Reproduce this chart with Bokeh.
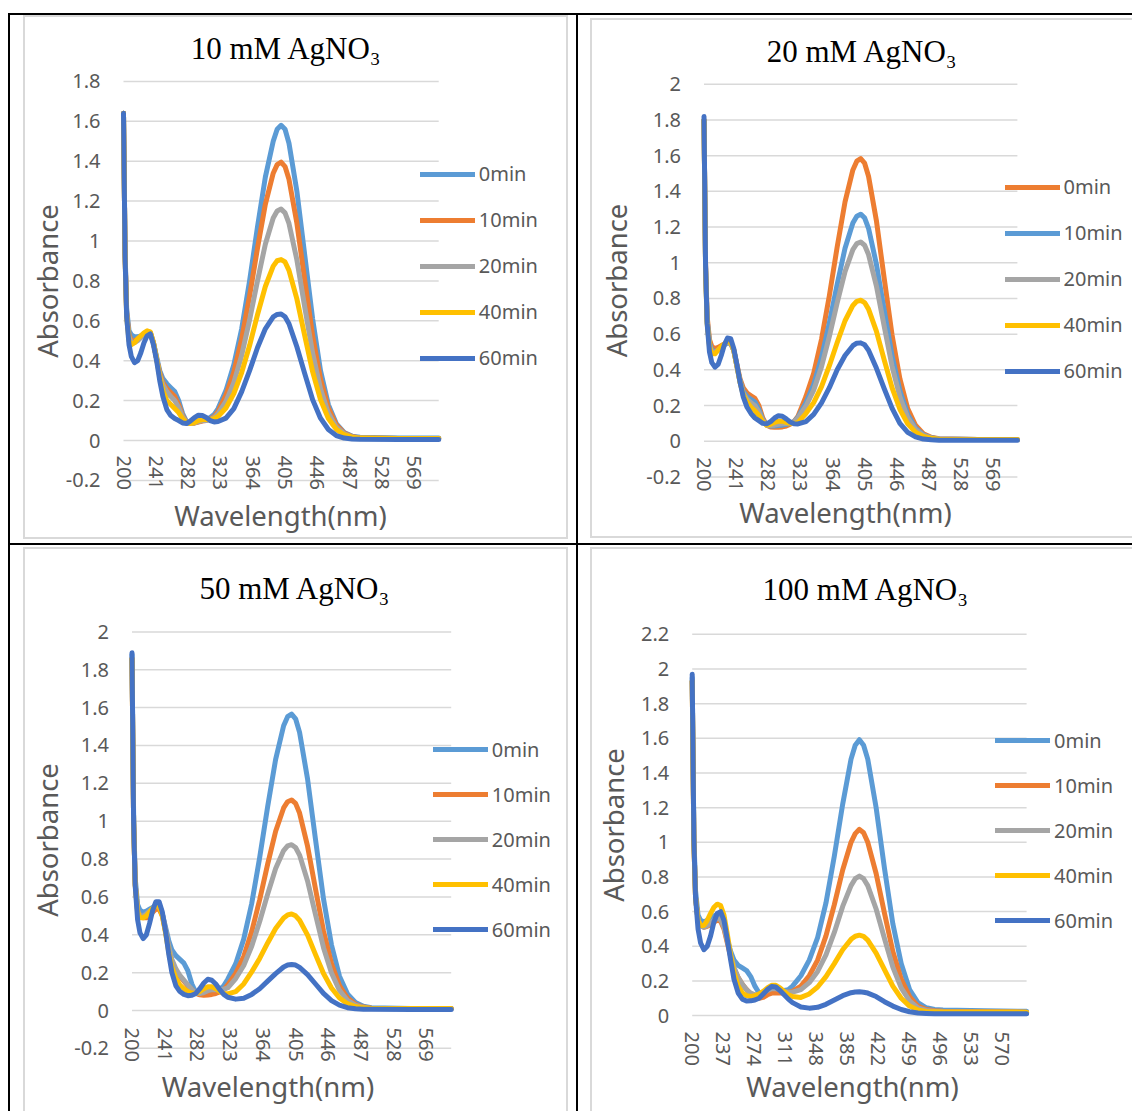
from bokeh.plotting import figure
from bokeh.models import Range1d, LinearAxis, FixedTicker, NumeralTickFormatter, Label, Spacer
from bokeh.layouts import row, column
from bokeh.embed import file_html
from bokeh.resources import INLINE

# ---------------- data ----------------
wavelength = [200, 202, 204, 207, 210, 214, 218, 222, 226, 230, 234, 238, 242, 246, 250, 255, 260, 265, 270, 275,
              280, 285, 290, 295, 300, 305, 310, 315, 320, 330, 340, 350, 360, 370, 380, 390, 395, 400, 405, 410,
              420, 430, 440, 450, 460, 470, 480, 490, 500, 550, 600]

series_labels = ["0min", "10min", "20min", "40min", "60min"]

# 10 mM AgNO3
c10_0min = [1.64, 0.95, 0.66, 0.55, 0.53, 0.52, 0.52, 0.525, 0.535, 0.545, 0.54, 0.49, 0.42, 0.35, 0.31, 0.285, 0.265, 0.245, 0.20, 0.135,
            0.095, 0.088, 0.09, 0.095, 0.10, 0.105, 0.115, 0.13, 0.16, 0.25, 0.38, 0.56, 0.80, 1.07, 1.32, 1.50, 1.56, 1.58, 1.56, 1.49,
            1.25, 0.93, 0.61, 0.35, 0.18, 0.085, 0.04, 0.022, 0.016, 0.012, 0.012]
c10_10min = [1.64, 0.93, 0.64, 0.53, 0.50, 0.50, 0.51, 0.52, 0.535, 0.545, 0.54, 0.49, 0.41, 0.34, 0.29, 0.26, 0.24, 0.22, 0.18, 0.125,
             0.09, 0.085, 0.087, 0.092, 0.097, 0.10, 0.108, 0.12, 0.145, 0.228, 0.342, 0.51, 0.724, 0.963, 1.184, 1.34, 1.383, 1.395, 1.373, 1.309,
             1.09, 0.804, 0.525, 0.309, 0.163, 0.079, 0.038, 0.02, 0.013, 0.01, 0.01]
c10_20min = [1.64, 0.93, 0.63, 0.52, 0.49, 0.49, 0.50, 0.515, 0.53, 0.545, 0.54, 0.49, 0.41, 0.33, 0.28, 0.245, 0.22, 0.20, 0.165, 0.12,
             0.09, 0.085, 0.088, 0.095, 0.10, 0.10, 0.105, 0.115, 0.135, 0.196, 0.29, 0.427, 0.604, 0.80, 0.984, 1.115, 1.15, 1.16, 1.141, 1.088,
             0.906, 0.669, 0.438, 0.259, 0.137, 0.068, 0.034, 0.018, 0.012, 0.01, 0.01]
c10_40min = [1.64, 0.92, 0.62, 0.50, 0.48, 0.49, 0.51, 0.525, 0.54, 0.55, 0.545, 0.49, 0.41, 0.32, 0.25, 0.20, 0.18, 0.16, 0.14, 0.11,
             0.088, 0.085, 0.09, 0.10, 0.105, 0.105, 0.105, 0.11, 0.12, 0.163, 0.235, 0.34, 0.476, 0.63, 0.772, 0.874, 0.901, 0.907, 0.895, 0.853,
             0.71, 0.525, 0.345, 0.205, 0.11, 0.056, 0.029, 0.017, 0.012, 0.01, 0.01]
c10_60min = [1.64, 0.92, 0.62, 0.48, 0.42, 0.39, 0.40, 0.44, 0.49, 0.525, 0.535, 0.48, 0.40, 0.30, 0.22, 0.155, 0.125, 0.11, 0.10, 0.088,
             0.085, 0.098, 0.115, 0.127, 0.125, 0.115, 0.10, 0.093, 0.095, 0.112, 0.16, 0.245, 0.35, 0.465, 0.56, 0.62, 0.632, 0.634, 0.62, 0.585,
             0.47, 0.335, 0.205, 0.112, 0.055, 0.025, 0.012, 0.008, 0.006, 0.005, 0.005]

# 20 mM AgNO3
c20_0min = [1.80, 1.00, 0.70, 0.57, 0.53, 0.52, 0.525, 0.535, 0.545, 0.55, 0.55, 0.51, 0.43, 0.35, 0.30, 0.27, 0.255, 0.24, 0.20, 0.13,
            0.09, 0.08, 0.078, 0.078, 0.08, 0.085, 0.095, 0.11, 0.14, 0.249, 0.38, 0.571, 0.816, 1.089, 1.341, 1.52, 1.569, 1.583, 1.558, 1.485,
            1.237, 0.912, 0.596, 0.35, 0.183, 0.089, 0.042, 0.022, 0.014, 0.01, 0.01]
c20_10min = [1.80, 0.98, 0.68, 0.55, 0.51, 0.50, 0.51, 0.525, 0.54, 0.55, 0.55, 0.51, 0.42, 0.34, 0.28, 0.25, 0.235, 0.22, 0.18, 0.12,
             0.09, 0.085, 0.085, 0.088, 0.09, 0.095, 0.10, 0.11, 0.135, 0.214, 0.318, 0.469, 0.664, 0.88, 1.081, 1.223, 1.261, 1.272, 1.252, 1.193,
             0.993, 0.733, 0.48, 0.283, 0.149, 0.073, 0.036, 0.019, 0.013, 0.01, 0.01]
c20_20min = [1.80, 0.97, 0.67, 0.54, 0.50, 0.50, 0.51, 0.525, 0.54, 0.555, 0.55, 0.51, 0.42, 0.33, 0.27, 0.235, 0.215, 0.20, 0.165, 0.115,
             0.09, 0.088, 0.09, 0.095, 0.098, 0.10, 0.103, 0.11, 0.13, 0.196, 0.286, 0.418, 0.587, 0.776, 0.95, 1.074, 1.107, 1.116, 1.098, 1.046,
             0.871, 0.644, 0.421, 0.249, 0.132, 0.066, 0.033, 0.018, 0.012, 0.01, 0.01]
c20_40min = [1.80, 0.96, 0.66, 0.53, 0.49, 0.49, 0.51, 0.53, 0.545, 0.56, 0.555, 0.51, 0.42, 0.33, 0.26, 0.22, 0.19, 0.17, 0.145, 0.11,
             0.09, 0.095, 0.105, 0.112, 0.112, 0.105, 0.10, 0.10, 0.105, 0.155, 0.216, 0.306, 0.423, 0.553, 0.675, 0.761, 0.784, 0.79, 0.777, 0.74,
             0.617, 0.456, 0.30, 0.179, 0.097, 0.05, 0.027, 0.016, 0.011, 0.01, 0.01]
c20_60min = [1.82, 0.98, 0.66, 0.50, 0.44, 0.415, 0.43, 0.48, 0.54, 0.578, 0.575, 0.52, 0.43, 0.33, 0.25, 0.19, 0.155, 0.13, 0.115, 0.10,
             0.097, 0.11, 0.13, 0.143, 0.14, 0.125, 0.108, 0.098, 0.097, 0.11, 0.15, 0.215, 0.30, 0.40, 0.48, 0.535, 0.549, 0.551, 0.54, 0.51,
             0.41, 0.295, 0.185, 0.10, 0.05, 0.024, 0.012, 0.008, 0.006, 0.005, 0.005]

# 50 mM AgNO3
c50_0min = [1.88, 1.05, 0.70, 0.56, 0.53, 0.52, 0.525, 0.535, 0.545, 0.555, 0.55, 0.51, 0.44, 0.37, 0.32, 0.29, 0.27, 0.25, 0.21, 0.14,
            0.095, 0.085, 0.085, 0.088, 0.092, 0.10, 0.11, 0.13, 0.165, 0.247, 0.377, 0.565, 0.808, 1.077, 1.327, 1.504, 1.552, 1.566, 1.541, 1.469,
            1.223, 0.902, 0.589, 0.346, 0.181, 0.088, 0.042, 0.022, 0.015, 0.01, 0.01]
c50_10min = [1.86, 1.00, 0.67, 0.53, 0.50, 0.49, 0.49, 0.50, 0.52, 0.535, 0.535, 0.50, 0.42, 0.33, 0.26, 0.21, 0.18, 0.155, 0.13, 0.11,
             0.09, 0.083, 0.08, 0.082, 0.085, 0.09, 0.098, 0.11, 0.135, 0.196, 0.285, 0.417, 0.585, 0.773, 0.947, 1.07, 1.103, 1.112, 1.094, 1.043,
             0.868, 0.641, 0.42, 0.248, 0.132, 0.066, 0.033, 0.018, 0.012, 0.01, 0.01]
c50_20min = [1.86, 1.00, 0.67, 0.53, 0.50, 0.50, 0.51, 0.525, 0.54, 0.555, 0.55, 0.51, 0.43, 0.34, 0.27, 0.22, 0.185, 0.16, 0.135, 0.11,
             0.092, 0.09, 0.095, 0.105, 0.11, 0.11, 0.11, 0.112, 0.12, 0.169, 0.238, 0.339, 0.47, 0.615, 0.75, 0.845, 0.87, 0.876, 0.861, 0.821,
             0.684, 0.506, 0.332, 0.198, 0.106, 0.054, 0.028, 0.016, 0.011, 0.01, 0.01]
c50_40min = [1.86, 1.00, 0.66, 0.52, 0.49, 0.49, 0.50, 0.52, 0.54, 0.555, 0.55, 0.50, 0.41, 0.31, 0.23, 0.17, 0.135, 0.115, 0.10, 0.092,
             0.09, 0.10, 0.115, 0.125, 0.125, 0.115, 0.10, 0.09, 0.088, 0.10, 0.14, 0.204, 0.275, 0.357, 0.433, 0.489, 0.505, 0.51, 0.50, 0.477,
             0.398, 0.295, 0.195, 0.119, 0.066, 0.036, 0.021, 0.014, 0.011, 0.01, 0.01]
c50_60min = [1.89, 1.00, 0.66, 0.48, 0.41, 0.38, 0.40, 0.46, 0.53, 0.575, 0.575, 0.52, 0.42, 0.30, 0.20, 0.13, 0.10, 0.085, 0.078, 0.08,
             0.09, 0.115, 0.145, 0.165, 0.16, 0.14, 0.11, 0.085, 0.07, 0.06, 0.065, 0.085, 0.115, 0.155, 0.195, 0.23, 0.24, 0.243, 0.24, 0.228,
             0.19, 0.14, 0.09, 0.052, 0.028, 0.015, 0.009, 0.007, 0.006, 0.005, 0.005]

# 100 mM AgNO3
c100_0min = [1.95, 1.05, 0.72, 0.58, 0.55, 0.54, 0.55, 0.56, 0.575, 0.585, 0.58, 0.53, 0.44, 0.37, 0.32, 0.29, 0.275, 0.26, 0.225, 0.17,
             0.13, 0.125, 0.13, 0.14, 0.145, 0.145, 0.145, 0.15, 0.17, 0.23, 0.32, 0.45, 0.65, 0.92, 1.22, 1.48, 1.56, 1.592, 1.56, 1.48,
             1.20, 0.85, 0.53, 0.30, 0.15, 0.075, 0.045, 0.035, 0.032, 0.028, 0.025]
c100_10min = [1.93, 1.00, 0.68, 0.55, 0.52, 0.51, 0.515, 0.525, 0.54, 0.55, 0.545, 0.50, 0.42, 0.34, 0.27, 0.22, 0.18, 0.15, 0.125, 0.105,
              0.10, 0.105, 0.12, 0.13, 0.13, 0.13, 0.13, 0.135, 0.14, 0.17, 0.23, 0.32, 0.46, 0.64, 0.84, 1.00, 1.05, 1.075, 1.055, 1.00,
              0.82, 0.59, 0.37, 0.21, 0.11, 0.055, 0.035, 0.028, 0.025, 0.022, 0.02]
c100_20min = [1.93, 1.00, 0.68, 0.55, 0.52, 0.51, 0.52, 0.535, 0.55, 0.56, 0.555, 0.51, 0.43, 0.35, 0.28, 0.22, 0.18, 0.15, 0.13, 0.12,
              0.12, 0.13, 0.145, 0.155, 0.155, 0.15, 0.14, 0.135, 0.135, 0.15, 0.19, 0.255, 0.35, 0.48, 0.63, 0.75, 0.79, 0.805, 0.79, 0.75,
              0.615, 0.445, 0.28, 0.16, 0.085, 0.045, 0.03, 0.025, 0.022, 0.02, 0.02]
c100_40min = [1.93, 1.00, 0.68, 0.55, 0.52, 0.52, 0.55, 0.59, 0.625, 0.643, 0.635, 0.58, 0.47, 0.35, 0.25, 0.17, 0.13, 0.115, 0.11, 0.115,
              0.125, 0.14, 0.16, 0.175, 0.175, 0.16, 0.14, 0.12, 0.11, 0.105, 0.125, 0.165, 0.225, 0.30, 0.38, 0.44, 0.458, 0.464, 0.457, 0.435,
              0.36, 0.265, 0.17, 0.10, 0.055, 0.032, 0.024, 0.022, 0.021, 0.021, 0.02]
c100_60min = [1.97, 1.02, 0.68, 0.50, 0.42, 0.38, 0.40, 0.46, 0.54, 0.59, 0.60, 0.55, 0.44, 0.32, 0.21, 0.13, 0.095, 0.084, 0.085, 0.09,
              0.10, 0.125, 0.15, 0.168, 0.165, 0.145, 0.12, 0.095, 0.075, 0.05, 0.043, 0.048, 0.065, 0.09, 0.115, 0.132, 0.136, 0.137, 0.135, 0.13,
              0.11, 0.08, 0.055, 0.035, 0.022, 0.015, 0.012, 0.01, 0.01, 0.01, 0.01]

x_ticks_41 = [200, 241, 282, 323, 364, 405, 446, 487, 528, 569]
x_ticks_37 = [200, 237, 274, 311, 348, 385, 422, 459, 496, 533, 570]
y_ticks_18 = [-0.2, 0, 0.2, 0.4, 0.6, 0.8, 1, 1.2, 1.4, 1.6, 1.8]
y_ticks_20 = [-0.2, 0, 0.2, 0.4, 0.6, 0.8, 1, 1.2, 1.4, 1.6, 1.8, 2]
y_ticks_22 = [0, 0.2, 0.4, 0.6, 0.8, 1, 1.2, 1.4, 1.6, 1.8, 2, 2.2]

# ---------------- styles ----------------
BLUE_L, ORANGE, GRAY, GOLD, BLUE_D = "#5B9BD5", "#ED7D31", "#A5A5A5", "#FFC000", "#4472C4"
TXT = "#595959"
GRID = "#D9D9D9"
FONT = "Noto Sans"

panels = [
    dict(title="10 mM AgNO\u2083", series=[c10_0min, c10_10min, c10_20min, c10_40min, c10_60min],
         colors=[BLUE_L, ORANGE, GRAY, GOLD, BLUE_D], x_ticks=x_ticks_41, y_ticks=y_ticks_18,
         fig=(25, 17, 541, 520), map=(123.0, 0.788, 440.0, 199.5),
         title_cx=286, title_base=48, leg_x=419.8, leg_row1=173.8, pitch=46,
         xlab_cx=280, xtick_so=15, xlab_so=56, ylab_so=-3),
    dict(title="20 mM AgNO\u2083", series=[c20_0min, c20_10min, c20_20min, c20_40min, c20_60min],
         colors=[ORANGE, BLUE_L, GRAY, GOLD, BLUE_D], x_ticks=x_ticks_41, y_ticks=y_ticks_20,
         fig=(592, 20, 540, 516), map=(703.5, 0.7835, 440.7, 178.45),
         title_cx=862, title_base=51, leg_x=1004.5, leg_row1=186.6, pitch=46,
         xlab_cx=844.7, xtick_so=16, xlab_so=52, ylab_so=9),
    dict(title="50 mM AgNO\u2083", series=[c50_0min, c50_10min, c50_20min, c50_40min, c50_60min],
         colors=[BLUE_L, ORANGE, GRAY, GOLD, BLUE_D], x_ticks=x_ticks_41, y_ticks=y_ticks_20,
         fig=(25, 549, 541, 562), map=(131.5, 0.798, 1010.0, 189.3),
         title_cx=294.7, title_base=588, leg_x=432.8, leg_row1=749, pitch=45,
         xlab_cx=267, xtick_so=17, xlab_so=57, ylab_so=6),
    dict(title="100 mM AgNO\u2083", series=[c100_0min, c100_10min, c100_20min, c100_40min, c100_60min],
         colors=[BLUE_L, ORANGE, GRAY, GOLD, BLUE_D], x_ticks=x_ticks_37, y_ticks=y_ticks_22,
         fig=(592, 549, 540, 562), map=(691.7, 0.836, 1015.1, 173.3),
         title_cx=865.6, title_base=589, leg_x=995, leg_row1=740.3, pitch=45,
         xlab_cx=852, xtick_so=16, xlab_so=52, ylab_so=6),
]


def make_panel(s):
    fx, fy, fw, fh = s["fig"]
    x0, ppn, y0, ppu = s["map"]
    w0, w1 = wavelength[0], wavelength[-1]
    xs = w0 - (x0 - fx) / ppn
    xe = xs + fw / ppn
    ye = (y0 - fy) / ppu
    ys = ye - fh / ppu
    p = figure(width=fw, height=fh, x_range=Range1d(xs, xe), y_range=Range1d(ys, ye),
               x_axis_type=None, y_axis_type=None, toolbar_location=None, output_backend="svg",
               min_border=0, outline_line_color=None,
               background_fill_color="white", border_fill_color="white")

    yt = s["y_ticks"]
    p.segment(x0=[w0] * len(yt), y0=yt, x1=[w1] * len(yt), y1=yt, line_color=GRID, line_width=1.5)

    for name, vals, col in zip(series_labels, s["series"], s["colors"]):
        p.line(wavelength, vals, line_color=col, line_width=5, line_join="round", line_cap="round",
               legend_label=name)

    # y axis (value axis)
    ya = LinearAxis(fixed_location=w0, ticker=FixedTicker(ticks=yt),
                    formatter=NumeralTickFormatter(format="0.[0]"), bounds=(yt[0], yt[-1]),
                    axis_line_color=None, major_tick_line_color=None, minor_tick_line_color=None,
                    major_tick_out=0, major_tick_in=0, minor_tick_out=0, minor_tick_in=0,
                    major_label_standoff=23, major_label_text_font=FONT, major_label_text_font_size="20px",
                    major_label_text_color=TXT,
                    axis_label="Absorbance", axis_label_text_font=FONT, axis_label_text_font_size="27.5px",
                    axis_label_text_font_style="normal", axis_label_text_color=TXT,
                    axis_label_standoff=s["ylab_so"])
    p.add_layout(ya, "left")

    # category tick labels, crossing at 0
    xa = LinearAxis(fixed_location=0, ticker=FixedTicker(ticks=s["x_ticks"]),
                    axis_line_color=None, major_tick_line_color=None, minor_tick_line_color=None,
                    major_tick_out=0, major_tick_in=0, minor_tick_out=0, minor_tick_in=0,
                    major_label_orientation="vertical", major_label_standoff=s["xtick_so"],
                    major_label_text_font=FONT, major_label_text_font_size="20px", major_label_text_color=TXT)
    p.add_layout(xa, "below")

    # axis title
    c = w0 + (s["xlab_cx"] - x0) / ppn
    xl = LinearAxis(fixed_location=0, ticker=FixedTicker(ticks=[]), bounds=(w0, 2 * c - w0),
                    axis_line_color=None, major_tick_line_color=None, minor_tick_line_color=None,
                    major_tick_out=0, major_tick_in=0, minor_tick_out=0, minor_tick_in=0,
                    axis_label="Wavelength(nm)", axis_label_text_font=FONT, axis_label_text_font_size="27.5px",
                    axis_label_text_font_style="normal", axis_label_text_color=TXT,
                    axis_label_standoff=s["xlab_so"])
    p.add_layout(xl, "below")

    # chart title
    tx = w0 + (s["title_cx"] - x0) / ppn
    ty = (y0 - s["title_base"]) / ppu
    p.add_layout(Label(x=tx, y=ty, text=s["title"], text_font="Liberation Serif", text_font_size="31px",
                       text_align="center", text_baseline="alphabetic", text_color="black"))

    # legend
    lg = p.legend[0]
    row_h = 30
    spacing = s["pitch"] - row_h
    leg_h = 5 * row_h + 4 * spacing
    leg_top = s["leg_row1"] - row_h / 2
    lg.location = (s["leg_x"] - fx, (fy + fh) - (leg_top + leg_h))
    lg.padding = 0
    lg.margin = 0
    lg.spacing = spacing
    lg.glyph_width = 55
    lg.glyph_height = row_h
    lg.label_height = row_h
    lg.label_standoff = 4
    lg.label_text_font = FONT
    lg.label_text_font_size = "20px"
    lg.label_text_color = TXT
    lg.border_line_color = None
    lg.background_fill_alpha = 0
    return p


p1, p2, p3, p4 = [make_panel(s) for s in panels]


def bar(w, h, color):
    return Spacer(width=w, height=h, styles={"background-color": color})


BLACK = "#000000"
cell1 = row(Spacer(width=13, height=528),
            column(bar(545, 2, GRID), row(bar(2, 520, GRID), p1, bar(2, 520, GRID)), bar(545, 2, GRID),
                   Spacer(width=545, height=4)),
            Spacer(width=8, height=528))
cell2 = row(Spacer(width=12, height=528),
            column(Spacer(width=542, height=3), bar(542, 2, GRID), row(bar(2, 516, GRID), p2), bar(542, 2, GRID),
                   Spacer(width=542, height=5)))
cell3 = row(Spacer(width=13, height=566),
            column(Spacer(width=545, height=2), bar(545, 2, GRID), row(bar(2, 562, GRID), p3, bar(2, 562, GRID))),
            Spacer(width=8, height=566))
cell4 = row(Spacer(width=12, height=566),
            column(Spacer(width=542, height=2), bar(542, 2, GRID), row(bar(2, 562, GRID), p4)))

table = column(
    Spacer(width=1124, height=5),
    bar(1124, 2, BLACK),
    row(bar(2, 528, BLACK), cell1, bar(2, 528, BLACK), cell2),
    bar(1124, 2, BLACK),
    row(bar(2, 566, BLACK), cell3, bar(2, 566, BLACK), cell4),
)

page = column(
    Spacer(width=1132, height=8),
    row(Spacer(width=8, height=1103), table),
)

open("out.html", "w").write(file_html(page, INLINE))
